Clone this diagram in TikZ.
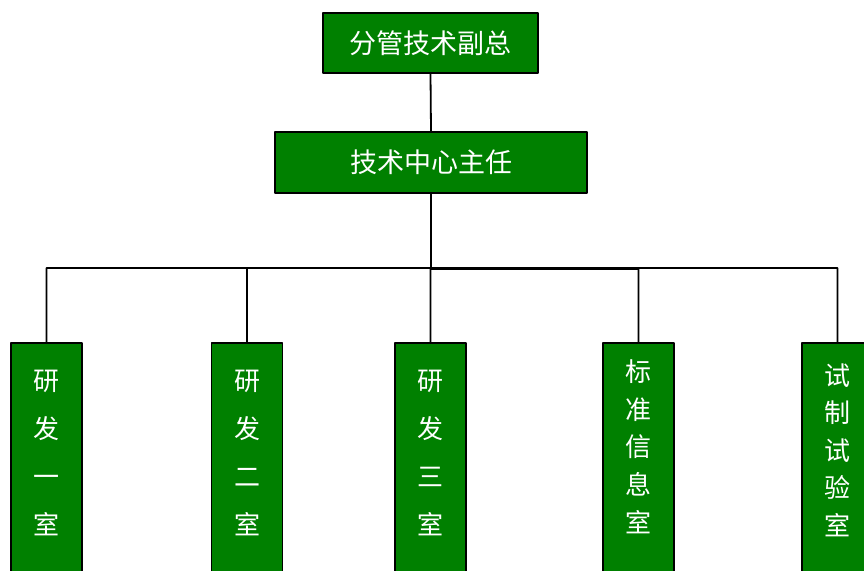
\documentclass[tikz,border=0pt]{standalone}
\usepackage{fontspec}
\setmainfont{Noto Sans CJK SC}
\tikzset{
  box/.style={draw=black,line width=1.8pt,fill=green!50!black,text=white,inner sep=0pt},
  room/.style={box,minimum width=71pt,minimum height=260pt,anchor=north},
  roomtext/.style={text=white,align=center,inner sep=0pt}
}
\begin{document}
\begin{tikzpicture}[x=1pt,y=-1pt,line join=round,line cap=round,font=\fontsize{27}{27}\selectfont]
			\clip (0,0) rectangle (864,570);
			\path
			(0,268) coordinate (bus)
			(0,269) coordinate (bus2)
			;
			\node[box,minimum width=215pt,minimum height=60pt] (fz) at (430.5,43) {分管技术副总};
			\node[box,minimum width=312pt,minimum height=61pt] (zr) at (431,162.5) {技术中心主任};
			\foreach \n/\x/\y/\s/\t in {
				1/46.5/453/48/{研\\发\\一\\室},
				2/247/453/48/{研\\发\\二\\室},
				3/430.5/453/48/{研\\发\\三\\室},
				4/638.5/446.5/37.75/{标\\准\\信\\息\\室},
				5/837.5/450/37.5/{试\\制\\试\\验\\室}}
			{
			\node[room] (r\n) at (\x,342) {};
			\node[roomtext,font=\fontsize{26}{\s}\selectfont] (t\n) at (\x,\y) {\t};
			}
			\draw[line width=1.8pt]
			(fz.south)--(zr.north)
			(zr.south)--(zr.south |- bus)
			(r1.north)--(r1.north |- bus)-|(r5.north)
			(r2.north)--(r2.north |- bus)
			(r3.north)--(r3.north |- bus)
			(r4.north)--(r4.north |- bus)
			(zr.south |- bus2)--(r4.north |- bus2)
			;
		\end{tikzpicture}
\end{document}
